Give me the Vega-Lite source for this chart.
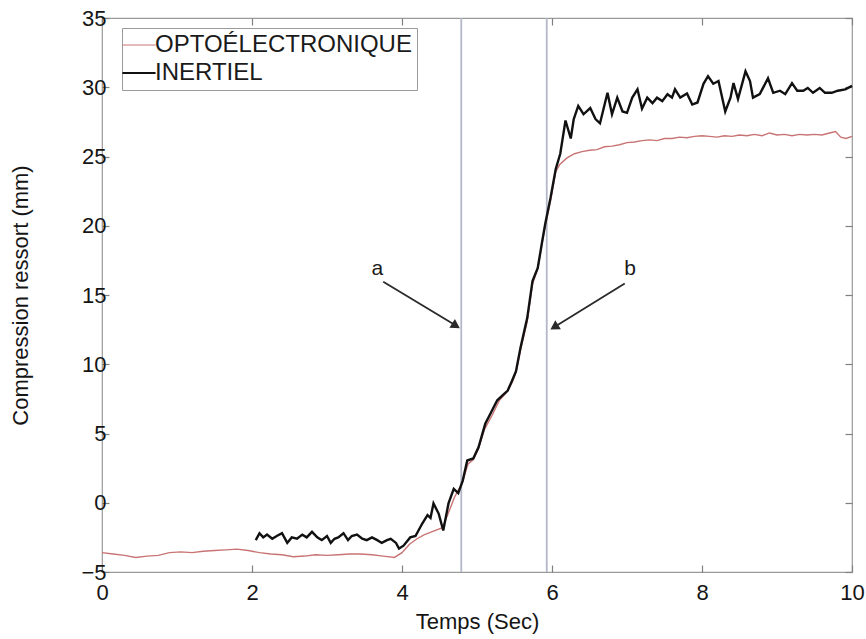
{
  "$schema": "https://vega.github.io/schema/vega-lite/v6.json",
  "width": 750,
  "height": 554,
  "autosize": {"type": "none"},
  "padding": {"left": 102, "top": 18, "right": 14, "bottom": 67},
  "background": "white",
  "config": {
    "font": "Liberation Sans",
    "view": {"stroke": "#9a9a9a", "strokeWidth": 1.2},
    "axis": {
      "grid": false,
      "domainColor": "#9a9a9a",
      "tickColor": "#808080",
      "tickWidth": 1.2,
      "labelColor": "#151515",
      "titleColor": "#151515",
      "labelFontSize": 22,
      "titleFontSize": 22,
      "titleFontWeight": "normal",
      "tickSize": -7,
      "labelFlush": false
    }
  },
  "datasets": {
    "curves": [
      {"s": "OPTOÉLECTRONIQUE", "x": 0, "y": -3.6},
      {"s": "OPTOÉLECTRONIQUE", "x": 0.15, "y": -3.7},
      {"s": "OPTOÉLECTRONIQUE", "x": 0.3, "y": -3.8},
      {"s": "OPTOÉLECTRONIQUE", "x": 0.45, "y": -3.95},
      {"s": "OPTOÉLECTRONIQUE", "x": 0.6, "y": -3.85},
      {"s": "OPTOÉLECTRONIQUE", "x": 0.75, "y": -3.8},
      {"s": "OPTOÉLECTRONIQUE", "x": 0.9, "y": -3.6},
      {"s": "OPTOÉLECTRONIQUE", "x": 1.05, "y": -3.55},
      {"s": "OPTOÉLECTRONIQUE", "x": 1.2, "y": -3.6},
      {"s": "OPTOÉLECTRONIQUE", "x": 1.35, "y": -3.5},
      {"s": "OPTOÉLECTRONIQUE", "x": 1.5, "y": -3.45},
      {"s": "OPTOÉLECTRONIQUE", "x": 1.65, "y": -3.4},
      {"s": "OPTOÉLECTRONIQUE", "x": 1.8, "y": -3.35},
      {"s": "OPTOÉLECTRONIQUE", "x": 1.95, "y": -3.45},
      {"s": "OPTOÉLECTRONIQUE", "x": 2.1, "y": -3.6},
      {"s": "OPTOÉLECTRONIQUE", "x": 2.25, "y": -3.7},
      {"s": "OPTOÉLECTRONIQUE", "x": 2.4, "y": -3.75},
      {"s": "OPTOÉLECTRONIQUE", "x": 2.55, "y": -3.9},
      {"s": "OPTOÉLECTRONIQUE", "x": 2.7, "y": -3.85},
      {"s": "OPTOÉLECTRONIQUE", "x": 2.85, "y": -3.75},
      {"s": "OPTOÉLECTRONIQUE", "x": 3.0, "y": -3.8},
      {"s": "OPTOÉLECTRONIQUE", "x": 3.15, "y": -3.75},
      {"s": "OPTOÉLECTRONIQUE", "x": 3.3, "y": -3.7},
      {"s": "OPTOÉLECTRONIQUE", "x": 3.45, "y": -3.7},
      {"s": "OPTOÉLECTRONIQUE", "x": 3.6, "y": -3.75},
      {"s": "OPTOÉLECTRONIQUE", "x": 3.75, "y": -3.85},
      {"s": "OPTOÉLECTRONIQUE", "x": 3.9, "y": -3.95},
      {"s": "OPTOÉLECTRONIQUE", "x": 4.0, "y": -3.6},
      {"s": "OPTOÉLECTRONIQUE", "x": 4.1, "y": -3.0},
      {"s": "OPTOÉLECTRONIQUE", "x": 4.2, "y": -2.6},
      {"s": "OPTOÉLECTRONIQUE", "x": 4.3, "y": -2.3},
      {"s": "OPTOÉLECTRONIQUE", "x": 4.42, "y": -2.05},
      {"s": "OPTOÉLECTRONIQUE", "x": 4.54, "y": -1.8},
      {"s": "OPTOÉLECTRONIQUE", "x": 4.6, "y": -1.0},
      {"s": "OPTOÉLECTRONIQUE", "x": 4.7, "y": 0.4},
      {"s": "OPTOÉLECTRONIQUE", "x": 4.8, "y": 1.4},
      {"s": "OPTOÉLECTRONIQUE", "x": 4.88, "y": 2.8},
      {"s": "OPTOÉLECTRONIQUE", "x": 4.95, "y": 3.1},
      {"s": "OPTOÉLECTRONIQUE", "x": 5.02, "y": 3.9},
      {"s": "OPTOÉLECTRONIQUE", "x": 5.1, "y": 5.3},
      {"s": "OPTOÉLECTRONIQUE", "x": 5.2, "y": 6.3},
      {"s": "OPTOÉLECTRONIQUE", "x": 5.3, "y": 7.4},
      {"s": "OPTOÉLECTRONIQUE", "x": 5.4, "y": 8.0},
      {"s": "OPTOÉLECTRONIQUE", "x": 5.47, "y": 8.7},
      {"s": "OPTOÉLECTRONIQUE", "x": 5.52, "y": 9.4},
      {"s": "OPTOÉLECTRONIQUE", "x": 5.58, "y": 11.0},
      {"s": "OPTOÉLECTRONIQUE", "x": 5.67, "y": 13.1},
      {"s": "OPTOÉLECTRONIQUE", "x": 5.74, "y": 15.8},
      {"s": "OPTOÉLECTRONIQUE", "x": 5.81, "y": 16.9},
      {"s": "OPTOÉLECTRONIQUE", "x": 5.87, "y": 18.8},
      {"s": "OPTOÉLECTRONIQUE", "x": 5.91, "y": 20.0},
      {"s": "OPTOÉLECTRONIQUE", "x": 5.98, "y": 21.8},
      {"s": "OPTOÉLECTRONIQUE", "x": 6.05, "y": 23.9},
      {"s": "OPTOÉLECTRONIQUE", "x": 6.1, "y": 24.4},
      {"s": "OPTOÉLECTRONIQUE", "x": 6.2, "y": 24.9},
      {"s": "OPTOÉLECTRONIQUE", "x": 6.3, "y": 25.2},
      {"s": "OPTOÉLECTRONIQUE", "x": 6.4, "y": 25.35},
      {"s": "OPTOÉLECTRONIQUE", "x": 6.5, "y": 25.45},
      {"s": "OPTOÉLECTRONIQUE", "x": 6.6, "y": 25.5},
      {"s": "OPTOÉLECTRONIQUE", "x": 6.7, "y": 25.7},
      {"s": "OPTOÉLECTRONIQUE", "x": 6.8, "y": 25.75},
      {"s": "OPTOÉLECTRONIQUE", "x": 6.9, "y": 25.85},
      {"s": "OPTOÉLECTRONIQUE", "x": 7.0, "y": 26.0},
      {"s": "OPTOÉLECTRONIQUE", "x": 7.1, "y": 26.05},
      {"s": "OPTOÉLECTRONIQUE", "x": 7.2, "y": 26.15},
      {"s": "OPTOÉLECTRONIQUE", "x": 7.3, "y": 26.2},
      {"s": "OPTOÉLECTRONIQUE", "x": 7.4, "y": 26.15},
      {"s": "OPTOÉLECTRONIQUE", "x": 7.5, "y": 26.3},
      {"s": "OPTOÉLECTRONIQUE", "x": 7.6, "y": 26.3},
      {"s": "OPTOÉLECTRONIQUE", "x": 7.7, "y": 26.4},
      {"s": "OPTOÉLECTRONIQUE", "x": 7.8, "y": 26.35},
      {"s": "OPTOÉLECTRONIQUE", "x": 7.9, "y": 26.45},
      {"s": "OPTOÉLECTRONIQUE", "x": 8.0, "y": 26.5},
      {"s": "OPTOÉLECTRONIQUE", "x": 8.1, "y": 26.45},
      {"s": "OPTOÉLECTRONIQUE", "x": 8.2, "y": 26.4},
      {"s": "OPTOÉLECTRONIQUE", "x": 8.3, "y": 26.5},
      {"s": "OPTOÉLECTRONIQUE", "x": 8.4, "y": 26.45},
      {"s": "OPTOÉLECTRONIQUE", "x": 8.5, "y": 26.55},
      {"s": "OPTOÉLECTRONIQUE", "x": 8.6, "y": 26.5},
      {"s": "OPTOÉLECTRONIQUE", "x": 8.7, "y": 26.6},
      {"s": "OPTOÉLECTRONIQUE", "x": 8.8, "y": 26.5},
      {"s": "OPTOÉLECTRONIQUE", "x": 8.9, "y": 26.7},
      {"s": "OPTOÉLECTRONIQUE", "x": 9.0, "y": 26.55},
      {"s": "OPTOÉLECTRONIQUE", "x": 9.1, "y": 26.6},
      {"s": "OPTOÉLECTRONIQUE", "x": 9.2, "y": 26.5},
      {"s": "OPTOÉLECTRONIQUE", "x": 9.3, "y": 26.6},
      {"s": "OPTOÉLECTRONIQUE", "x": 9.4, "y": 26.55},
      {"s": "OPTOÉLECTRONIQUE", "x": 9.5, "y": 26.6},
      {"s": "OPTOÉLECTRONIQUE", "x": 9.6, "y": 26.55},
      {"s": "OPTOÉLECTRONIQUE", "x": 9.7, "y": 26.7},
      {"s": "OPTOÉLECTRONIQUE", "x": 9.78, "y": 26.8},
      {"s": "OPTOÉLECTRONIQUE", "x": 9.85, "y": 26.4},
      {"s": "OPTOÉLECTRONIQUE", "x": 9.92, "y": 26.3},
      {"s": "OPTOÉLECTRONIQUE", "x": 10.0, "y": 26.45},
      {"s": "INERTIEL", "x": 2.05, "y": -2.7},
      {"s": "INERTIEL", "x": 2.1, "y": -2.2},
      {"s": "INERTIEL", "x": 2.15, "y": -2.5},
      {"s": "INERTIEL", "x": 2.2, "y": -2.3},
      {"s": "INERTIEL", "x": 2.27, "y": -2.6},
      {"s": "INERTIEL", "x": 2.33, "y": -2.4},
      {"s": "INERTIEL", "x": 2.4, "y": -2.2},
      {"s": "INERTIEL", "x": 2.47, "y": -2.9},
      {"s": "INERTIEL", "x": 2.53, "y": -2.5},
      {"s": "INERTIEL", "x": 2.6, "y": -2.6},
      {"s": "INERTIEL", "x": 2.67, "y": -2.3},
      {"s": "INERTIEL", "x": 2.73, "y": -2.5},
      {"s": "INERTIEL", "x": 2.8, "y": -2.1},
      {"s": "INERTIEL", "x": 2.87, "y": -2.5},
      {"s": "INERTIEL", "x": 2.93, "y": -2.7},
      {"s": "INERTIEL", "x": 3.0, "y": -2.4},
      {"s": "INERTIEL", "x": 3.05, "y": -2.9},
      {"s": "INERTIEL", "x": 3.1, "y": -2.6},
      {"s": "INERTIEL", "x": 3.15, "y": -2.5},
      {"s": "INERTIEL", "x": 3.22, "y": -2.2},
      {"s": "INERTIEL", "x": 3.28, "y": -2.7},
      {"s": "INERTIEL", "x": 3.33, "y": -2.4},
      {"s": "INERTIEL", "x": 3.4, "y": -2.3},
      {"s": "INERTIEL", "x": 3.47, "y": -2.6},
      {"s": "INERTIEL", "x": 3.53, "y": -2.7},
      {"s": "INERTIEL", "x": 3.6, "y": -2.5},
      {"s": "INERTIEL", "x": 3.67, "y": -2.7},
      {"s": "INERTIEL", "x": 3.73, "y": -2.9},
      {"s": "INERTIEL", "x": 3.8, "y": -2.7},
      {"s": "INERTIEL", "x": 3.85, "y": -2.6},
      {"s": "INERTIEL", "x": 3.92, "y": -2.9},
      {"s": "INERTIEL", "x": 3.96, "y": -3.3},
      {"s": "INERTIEL", "x": 4.02, "y": -3.1},
      {"s": "INERTIEL", "x": 4.11, "y": -2.5},
      {"s": "INERTIEL", "x": 4.18, "y": -2.4},
      {"s": "INERTIEL", "x": 4.27, "y": -1.5},
      {"s": "INERTIEL", "x": 4.34, "y": -0.9},
      {"s": "INERTIEL", "x": 4.38, "y": -1.1},
      {"s": "INERTIEL", "x": 4.42, "y": -0.05},
      {"s": "INERTIEL", "x": 4.49, "y": -0.8},
      {"s": "INERTIEL", "x": 4.55, "y": -2.0},
      {"s": "INERTIEL", "x": 4.62, "y": -0.05},
      {"s": "INERTIEL", "x": 4.69, "y": 1.0},
      {"s": "INERTIEL", "x": 4.75, "y": 0.7},
      {"s": "INERTIEL", "x": 4.81, "y": 1.6},
      {"s": "INERTIEL", "x": 4.87, "y": 3.05},
      {"s": "INERTIEL", "x": 4.95, "y": 3.2},
      {"s": "INERTIEL", "x": 5.02, "y": 4.0},
      {"s": "INERTIEL", "x": 5.11, "y": 5.7},
      {"s": "INERTIEL", "x": 5.18, "y": 6.45},
      {"s": "INERTIEL", "x": 5.27, "y": 7.4},
      {"s": "INERTIEL", "x": 5.34, "y": 7.75},
      {"s": "INERTIEL", "x": 5.41, "y": 8.1},
      {"s": "INERTIEL", "x": 5.47, "y": 8.85},
      {"s": "INERTIEL", "x": 5.52, "y": 9.5},
      {"s": "INERTIEL", "x": 5.58, "y": 11.2},
      {"s": "INERTIEL", "x": 5.67, "y": 13.35},
      {"s": "INERTIEL", "x": 5.74, "y": 16.0},
      {"s": "INERTIEL", "x": 5.81, "y": 16.95},
      {"s": "INERTIEL", "x": 5.87, "y": 18.9},
      {"s": "INERTIEL", "x": 5.91, "y": 20.15},
      {"s": "INERTIEL", "x": 5.98, "y": 22.0},
      {"s": "INERTIEL", "x": 6.05, "y": 24.1},
      {"s": "INERTIEL", "x": 6.11, "y": 25.2},
      {"s": "INERTIEL", "x": 6.18, "y": 27.6},
      {"s": "INERTIEL", "x": 6.25, "y": 26.3},
      {"s": "INERTIEL", "x": 6.29, "y": 27.7},
      {"s": "INERTIEL", "x": 6.35, "y": 28.65},
      {"s": "INERTIEL", "x": 6.42, "y": 28.05},
      {"s": "INERTIEL", "x": 6.51, "y": 28.5},
      {"s": "INERTIEL", "x": 6.58, "y": 27.7},
      {"s": "INERTIEL", "x": 6.64, "y": 27.4},
      {"s": "INERTIEL", "x": 6.74, "y": 29.6},
      {"s": "INERTIEL", "x": 6.8, "y": 28.05},
      {"s": "INERTIEL", "x": 6.87, "y": 29.25},
      {"s": "INERTIEL", "x": 6.94, "y": 28.25},
      {"s": "INERTIEL", "x": 7.0, "y": 28.15},
      {"s": "INERTIEL", "x": 7.07, "y": 29.25},
      {"s": "INERTIEL", "x": 7.14, "y": 29.85},
      {"s": "INERTIEL", "x": 7.2, "y": 28.45},
      {"s": "INERTIEL", "x": 7.27, "y": 29.25},
      {"s": "INERTIEL", "x": 7.34, "y": 28.85},
      {"s": "INERTIEL", "x": 7.4, "y": 29.25},
      {"s": "INERTIEL", "x": 7.47, "y": 29.0},
      {"s": "INERTIEL", "x": 7.54, "y": 29.5},
      {"s": "INERTIEL", "x": 7.6, "y": 29.25},
      {"s": "INERTIEL", "x": 7.64, "y": 29.85},
      {"s": "INERTIEL", "x": 7.71, "y": 29.25},
      {"s": "INERTIEL", "x": 7.8, "y": 29.55},
      {"s": "INERTIEL", "x": 7.87, "y": 28.75},
      {"s": "INERTIEL", "x": 7.94, "y": 28.9},
      {"s": "INERTIEL", "x": 8.02, "y": 30.25},
      {"s": "INERTIEL", "x": 8.08, "y": 30.8},
      {"s": "INERTIEL", "x": 8.15, "y": 30.25},
      {"s": "INERTIEL", "x": 8.22, "y": 30.45},
      {"s": "INERTIEL", "x": 8.31, "y": 28.25},
      {"s": "INERTIEL", "x": 8.38, "y": 29.25},
      {"s": "INERTIEL", "x": 8.42, "y": 30.3},
      {"s": "INERTIEL", "x": 8.48, "y": 29.15},
      {"s": "INERTIEL", "x": 8.58, "y": 31.15},
      {"s": "INERTIEL", "x": 8.64, "y": 30.45},
      {"s": "INERTIEL", "x": 8.68, "y": 29.25},
      {"s": "INERTIEL", "x": 8.77, "y": 29.5},
      {"s": "INERTIEL", "x": 8.88, "y": 30.65},
      {"s": "INERTIEL", "x": 8.95, "y": 29.6},
      {"s": "INERTIEL", "x": 9.04, "y": 29.75},
      {"s": "INERTIEL", "x": 9.11, "y": 29.5},
      {"s": "INERTIEL", "x": 9.2, "y": 30.3},
      {"s": "INERTIEL", "x": 9.27, "y": 29.75},
      {"s": "INERTIEL", "x": 9.35, "y": 29.75},
      {"s": "INERTIEL", "x": 9.41, "y": 29.95},
      {"s": "INERTIEL", "x": 9.48, "y": 29.6},
      {"s": "INERTIEL", "x": 9.57, "y": 29.95},
      {"s": "INERTIEL", "x": 9.64, "y": 29.6},
      {"s": "INERTIEL", "x": 9.73, "y": 29.6},
      {"s": "INERTIEL", "x": 9.81, "y": 29.75},
      {"s": "INERTIEL", "x": 9.91, "y": 29.85},
      {"s": "INERTIEL", "x": 10.0, "y": 30.1}
    ],
    "vlines": [{"x": 4.79}, {"x": 5.93}],
    "arrows": [
      {"arrow": "a", "x": 3.75, "y": 15.96},
      {"arrow": "a", "x": 4.74, "y": 12.72},
      {"arrow": "b", "x": 6.97, "y": 15.83},
      {"arrow": "b", "x": 6.01, "y": 12.62}
    ],
    "heads": [
      {"x": 4.72, "y": 12.78, "angle": 32, "shape": "triangle-right"},
      {"x": 6.03, "y": 12.68, "angle": -32, "shape": "triangle-left"}
    ],
    "labels": [
      {"x": 3.67, "y": 16.9, "t": "a"},
      {"x": 7.04, "y": 16.9, "t": "b"}
    ]
  },
  "layer": [
    {
      "data": {"name": "vlines"},
      "mark": {"type": "rule", "color": "#b3b8c8", "strokeWidth": 1.8},
      "encoding": {
        "x": {"field": "x", "type": "quantitative", "scale": {"domain": [0, 10], "nice": false}, "axis": {"orient": "top", "labels": false, "title": null, "values": [0, 2, 4, 6, 8, 10], "domain": false}}
      }
    },
    {
      "data": {"name": "curves"},
      "transform": [{"filter": "datum.s === 'OPTOÉLECTRONIQUE'"}],
      "mark": {"type": "line", "strokeWidth": 1.4, "interpolate": "linear"},
      "encoding": {
        "x": {"field": "x", "type": "quantitative", "scale": {"domain": [0, 10], "nice": false}, "axis": {"orient": "bottom", "title": "Temps (Sec)", "values": [0, 2, 4, 6, 8, 10], "labelPadding": 17, "titlePadding": 8, "domain": false}},
        "y": {"field": "y", "type": "quantitative", "scale": {"domain": [-5, 35], "nice": false}, "axis": {"orient": "left", "title": "Compression ressort (mm)", "values": [-5, 0, 5, 10, 15, 20, 25, 30, 35], "labelPadding": 3, "titlePadding": 48, "domain": false}},
        "color": {
          "field": "s", "type": "nominal",
          "scale": {"domain": ["OPTOÉLECTRONIQUE", "INERTIEL"], "range": ["#c97474", "#111111"]},
          "legend": {
            "orient": "none", "legendX": 20, "legendY": 10, "title": null,
            "symbolType": "stroke", "symbolSize": 1100, "symbolStrokeWidth": 2,
            "labelFontSize": 24, "labelColor": "#1a1a1a", "labelOffset": 4, "labelLimit": 400,
            "strokeColor": "#9a9a9a", "fillColor": "white", "padding": 5, "rowPadding": 4,
            "encode": {"symbols": {"update": {"strokeWidth": {"signal": "datum.value === 'INERTIEL' ? 2.2 : 1"}}}}
          }
        }
      }
    },
    {
      "data": {"name": "curves"},
      "transform": [{"filter": "datum.s === 'INERTIEL'"}],
      "mark": {"type": "line", "strokeWidth": 2.4, "interpolate": "linear"},
      "encoding": {
        "x": {"field": "x", "type": "quantitative", "axis": null},
        "y": {"field": "y", "type": "quantitative", "axis": null},
        "color": {"field": "s", "type": "nominal"}
      }
    },
    {
      "data": {"name": "arrows"},
      "mark": {"type": "line", "color": "#2a2a2a", "strokeWidth": 1.8},
      "encoding": {
        "x": {"field": "x", "type": "quantitative", "axis": null},
        "y": {"field": "y", "type": "quantitative", "axis": null},
        "detail": {"field": "arrow", "type": "nominal"}
      }
    },
    {
      "data": {"name": "heads"},
      "mark": {"type": "point", "filled": true, "color": "#2a2a2a", "size": 110, "opacity": 1},
      "encoding": {
        "x": {"field": "x", "type": "quantitative", "axis": null},
        "y": {"field": "y", "type": "quantitative", "axis": {"orient": "right", "labels": false, "title": null, "values": [-5, 0, 5, 10, 15, 20, 25, 30, 35], "domain": false}},
        "shape": {"field": "shape", "type": "nominal", "scale": null},
        "angle": {"field": "angle", "type": "quantitative", "scale": null}
      }
    },
    {
      "data": {"name": "labels"},
      "mark": {"type": "text", "fontSize": 21, "color": "#1a1a1a", "font": "Liberation Sans"},
      "encoding": {
        "x": {"field": "x", "type": "quantitative", "axis": null},
        "y": {"field": "y", "type": "quantitative", "axis": null},
        "text": {"field": "t"}
      }
    }
  ],
  "resolve": {"axis": {"x": "independent", "y": "independent"}}
}
